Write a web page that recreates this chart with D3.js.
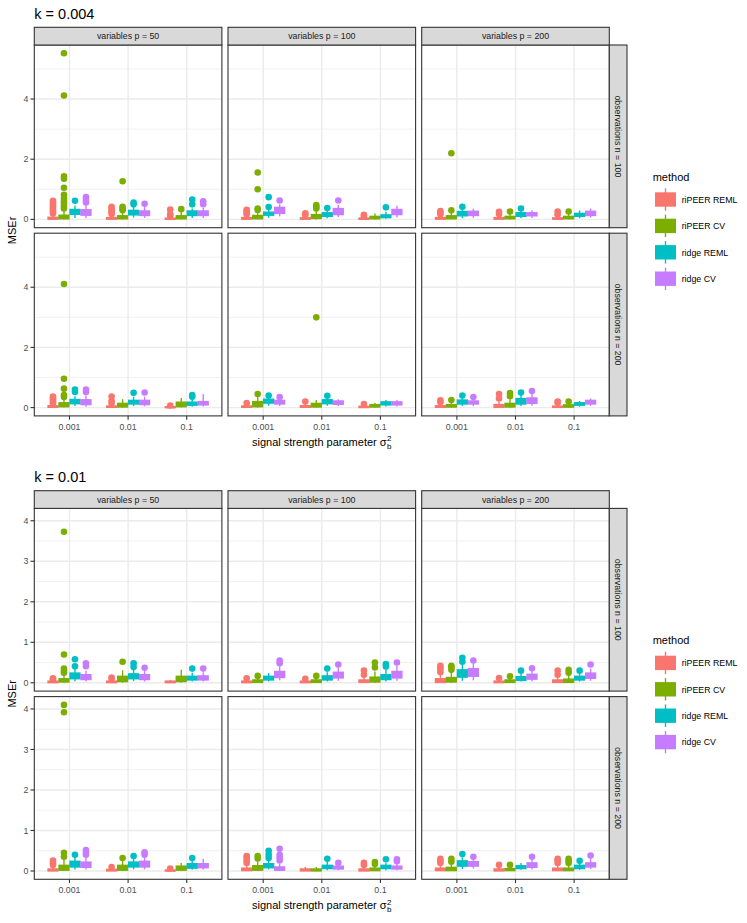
<!DOCTYPE html>
<html>
<head>
<meta charset="utf-8">
<script src="https://cdn.jsdelivr.net/npm/d3@7"></script>
<style>
  body { margin: 0; background: #fff; }
  text { font-family: "Liberation Sans", Arial, Helvetica, sans-serif; }
</style>
</head>
<body>
<svg id="chart" width="747" height="923"></svg>
<script>
const methods = ['riPEER REML', 'riPEER CV', 'ridge REML', 'ridge CV'];
const colors = ['#F8766D', '#7CAE00', '#00BFC4', '#C77CFF'];
const sigmas = ['0.001', '0.01', '0.1'];
const pVals = [50, 100, 200];
const nVals = [100, 200];

// each row: n, p, sigma, then per method [lo, q1, median, q3, hi, outliers]
const boxesK004 = [
  [100, 50, '0.001', [[0, 0.01, 0.03, 0.07, 0.15, [0.2, 0.26, 0.32, 0.38, 0.44, 0.5, 0.56, 0.62]],
                      [0, 0.02, 0.06, 0.14, 0.3, [0.36, 0.44, 0.52, 0.6, 0.7, 0.82, 1.05, 1.35, 1.43, 4.12, 5.52]],
                      [0.05, 0.17, 0.24, 0.33, 0.46, [0.62]],
                      [0.04, 0.14, 0.22, 0.32, 0.47, [0.56, 0.64, 0.74]]]],
  [100, 50, '0.01', [[0, 0.01, 0.03, 0.06, 0.13, [0.18, 0.24, 0.3, 0.36, 0.42]],
                     [0, 0.02, 0.05, 0.12, 0.25, [0.3, 0.36, 0.42, 1.27]],
                     [0.06, 0.15, 0.22, 0.3, 0.42, [0.5, 0.56]],
                     [0.05, 0.13, 0.2, 0.28, 0.42, [0.52]]]],
  [100, 50, '0.1', [[0, 0.005, 0.015, 0.04, 0.08, [0.12, 0.18, 0.33]],
                    [0, 0.02, 0.05, 0.12, 0.28, [0.34]],
                    [0.05, 0.13, 0.19, 0.28, 0.36, [0.5, 0.66]],
                    [0.05, 0.13, 0.19, 0.28, 0.38, [0.5, 0.6]]]],
  [100, 100, '0.001', [[0, 0.01, 0.03, 0.06, 0.12, [0.17, 0.22, 0.27, 0.32]],
                       [0, 0.02, 0.06, 0.13, 0.26, [0.31, 0.36, 1.0, 1.56]],
                       [0.05, 0.14, 0.18, 0.24, 0.33, [0.41, 0.74]],
                       [0.1, 0.2, 0.28, 0.4, 0.5, [0.63]]]],
  [100, 100, '0.01', [[0, 0.01, 0.03, 0.05, 0.1, [0.15, 0.2]],
                      [0, 0.03, 0.08, 0.16, 0.3, [0.36, 0.42, 0.48]],
                      [0.04, 0.1, 0.15, 0.22, 0.3, [0.38]],
                      [0.08, 0.16, 0.25, 0.36, 0.48, [0.63]]]],
  [100, 100, '0.1', [[0, 0.005, 0.02, 0.04, 0.08, [0.11, 0.15]],
                     [0, 0.02, 0.05, 0.1, 0.2, []],
                     [0.02, 0.06, 0.1, 0.15, 0.25, [0.4]],
                     [0.06, 0.16, 0.25, 0.33, 0.45, []]]],
  [100, 200, '0.001', [[0, 0.01, 0.03, 0.06, 0.12, [0.17, 0.22, 0.28]],
                       [0, 0.02, 0.05, 0.12, 0.25, [0.3, 2.2]],
                       [0.04, 0.12, 0.18, 0.26, 0.36, [0.42]],
                       [0.05, 0.13, 0.2, 0.27, 0.36, []]]],
  [100, 200, '0.01', [[0, 0.01, 0.03, 0.06, 0.12, [0.18, 0.25]],
                      [0, 0.02, 0.05, 0.1, 0.2, [0.26]],
                      [0.04, 0.1, 0.16, 0.22, 0.3, [0.36]],
                      [0.05, 0.12, 0.17, 0.22, 0.3, []]]],
  [100, 200, '0.1', [[0, 0.01, 0.02, 0.05, 0.1, [0.16, 0.26]],
                     [0, 0.02, 0.05, 0.1, 0.2, [0.26]],
                     [0.04, 0.1, 0.15, 0.2, 0.3, []],
                     [0.06, 0.13, 0.2, 0.27, 0.36, []]]],
  [200, 50, '0.001', [[0, 0.01, 0.03, 0.06, 0.1, [0.14, 0.19, 0.25, 0.31, 0.37]],
                      [0, 0.03, 0.08, 0.16, 0.3, [0.35, 0.42, 0.63, 0.96, 4.11]],
                      [0.05, 0.13, 0.19, 0.27, 0.38, [0.52, 0.6]],
                      [0.03, 0.1, 0.17, 0.26, 0.4, [0.52, 0.6]]]],
  [200, 50, '0.01', [[0, 0.01, 0.03, 0.05, 0.1, [0.15, 0.22, 0.37]],
                     [0, 0.02, 0.06, 0.14, 0.28, []],
                     [0.05, 0.12, 0.18, 0.24, 0.36, [0.49]],
                     [0.04, 0.1, 0.16, 0.24, 0.36, [0.5]]]],
  [200, 50, '0.1', [[0, 0.005, 0.01, 0.03, 0.05, [0.07]],
                    [0, 0.03, 0.1, 0.18, 0.32, []],
                    [0.03, 0.08, 0.12, 0.18, 0.28, [0.36, 0.42]],
                    [0.04, 0.09, 0.14, 0.2, 0.45, []]]],
  [200, 100, '0.001', [[0, 0.01, 0.03, 0.05, 0.1, [0.15]],
                       [0, 0.03, 0.1, 0.2, 0.35, [0.45]],
                       [0.06, 0.15, 0.22, 0.28, 0.35, [0.4]],
                       [0.05, 0.12, 0.18, 0.24, 0.3, [0.35]]]],
  [200, 100, '0.01', [[0, 0.01, 0.03, 0.06, 0.12, [0.2]],
                      [0, 0.02, 0.06, 0.14, 0.25, [3.0]],
                      [0.06, 0.13, 0.2, 0.26, 0.33, [0.39]],
                      [0.05, 0.11, 0.16, 0.22, 0.28, []]]],
  [200, 100, '0.1', [[0, 0.005, 0.02, 0.04, 0.08, [0.12]],
                     [0, 0.02, 0.05, 0.1, 0.15, []],
                     [0.04, 0.09, 0.14, 0.19, 0.25, []],
                     [0.04, 0.09, 0.14, 0.19, 0.25, []]]],
  [200, 200, '0.001', [[0, 0.01, 0.03, 0.06, 0.12, [0.18, 0.24]],
                       [0, 0.02, 0.05, 0.1, 0.2, [0.25]],
                       [0.05, 0.12, 0.18, 0.25, 0.33, [0.4]],
                       [0.05, 0.12, 0.18, 0.22, 0.3, [0.35]]]],
  [200, 200, '0.01', [[0, 0.01, 0.04, 0.1, 0.2, [0.3, 0.45]],
                      [0, 0.02, 0.06, 0.14, 0.28, [0.38, 0.48]],
                      [0.05, 0.12, 0.2, 0.3, 0.42, [0.5]],
                      [0.06, 0.14, 0.22, 0.32, 0.45, [0.55]]]],
  [200, 200, '0.1', [[0, 0.01, 0.02, 0.05, 0.1, [0.16, 0.2]],
                     [0, 0.02, 0.04, 0.09, 0.15, [0.2]],
                     [0.03, 0.08, 0.12, 0.16, 0.22, []],
                     [0.06, 0.12, 0.18, 0.24, 0.3, []]]],
];

const boxesK01 = [
  [100, 50, '0.001', [[0, 0.005, 0.02, 0.04, 0.07, [0.09, 0.11]],
                      [0, 0.02, 0.05, 0.1, 0.2, [0.25, 0.3, 0.35, 0.7, 3.73]],
                      [0.04, 0.1, 0.15, 0.24, 0.35, [0.41, 0.58]],
                      [0.03, 0.08, 0.13, 0.2, 0.3, [0.41, 0.48]]]],
  [100, 50, '0.01', [[0, 0.005, 0.02, 0.04, 0.07, [0.1, 0.13]],
                     [0, 0.03, 0.08, 0.16, 0.31, [0.52]],
                     [0.04, 0.1, 0.15, 0.22, 0.32, [0.39, 0.48]],
                     [0.03, 0.08, 0.13, 0.2, 0.3, [0.37]]]],
  [100, 50, '0.1', [[0, 0.005, 0.02, 0.04, 0.07, []],
                    [0, 0.03, 0.08, 0.16, 0.32, []],
                    [0.03, 0.07, 0.1, 0.16, 0.25, [0.35]],
                    [0.03, 0.07, 0.11, 0.17, 0.26, [0.35]]]],
  [100, 100, '0.001', [[0, 0.005, 0.02, 0.04, 0.08, [0.11]],
                       [0, 0.01, 0.03, 0.07, 0.13, [0.17]],
                       [0.03, 0.07, 0.11, 0.16, 0.24, []],
                       [0.06, 0.13, 0.2, 0.28, 0.4, [0.48, 0.55]]]],
  [100, 100, '0.01', [[0, 0.005, 0.02, 0.04, 0.07, [0.1]],
                      [0, 0.01, 0.03, 0.07, 0.13, [0.17]],
                      [0.03, 0.07, 0.11, 0.17, 0.26, [0.35]],
                      [0.05, 0.12, 0.18, 0.26, 0.38, [0.45]]]],
  [100, 100, '0.1', [[0, 0.01, 0.03, 0.07, 0.14, [0.2, 0.3]],
                     [0, 0.02, 0.06, 0.14, 0.28, [0.38, 0.5]],
                     [0.03, 0.08, 0.13, 0.2, 0.32, [0.4, 0.46]],
                     [0.05, 0.12, 0.19, 0.28, 0.42, [0.5]]]],
  [100, 200, '0.001', [[0, 0.01, 0.04, 0.1, 0.2, [0.26, 0.32, 0.38, 0.42]],
                       [0, 0.02, 0.06, 0.13, 0.26, [0.32, 0.38, 0.42]],
                       [0.05, 0.14, 0.22, 0.32, 0.45, [0.52, 0.62]],
                       [0.06, 0.16, 0.25, 0.35, 0.48, [0.55]]]],
  [100, 200, '0.01', [[0, 0.005, 0.02, 0.04, 0.08, [0.12]],
                      [0, 0.01, 0.03, 0.07, 0.12, [0.16]],
                      [0.03, 0.06, 0.1, 0.15, 0.22, [0.3]],
                      [0.04, 0.09, 0.15, 0.21, 0.3, [0.36]]]],
  [100, 200, '0.1', [[0, 0.01, 0.03, 0.07, 0.14, [0.2, 0.3]],
                     [0, 0.01, 0.04, 0.09, 0.18, [0.25, 0.32]],
                     [0.03, 0.07, 0.11, 0.16, 0.24, [0.3]],
                     [0.05, 0.11, 0.17, 0.24, 0.35, [0.45]]]],
  [200, 50, '0.001', [[0, 0.005, 0.02, 0.05, 0.1, [0.15, 0.2, 0.26]],
                      [0, 0.02, 0.06, 0.14, 0.28, [0.35, 0.45, 3.92, 4.1]],
                      [0.04, 0.1, 0.16, 0.24, 0.34, [0.4]],
                      [0.04, 0.09, 0.15, 0.22, 0.33, [0.4, 0.46, 0.52]]]],
  [200, 50, '0.01', [[0, 0.005, 0.02, 0.04, 0.07, [0.1]],
                     [0, 0.02, 0.06, 0.14, 0.28, [0.32]],
                     [0.04, 0.1, 0.15, 0.22, 0.3, [0.37]],
                     [0.04, 0.1, 0.16, 0.24, 0.34, [0.4, 0.46]]]],
  [200, 50, '0.1', [[0, 0.005, 0.01, 0.02, 0.04, [0.06]],
                    [0, 0.02, 0.06, 0.12, 0.2, []],
                    [0.03, 0.07, 0.12, 0.18, 0.26, [0.32]],
                    [0.04, 0.08, 0.13, 0.18, 0.3, []]]],
  [200, 100, '0.001', [[0, 0.01, 0.03, 0.07, 0.14, [0.2, 0.26, 0.32, 0.37]],
                       [0, 0.02, 0.06, 0.13, 0.26, [0.31, 0.37]],
                       [0.04, 0.08, 0.13, 0.18, 0.26, [0.32, 0.4, 0.5]],
                       [0, 0.02, 0.05, 0.1, 0.18, [0.26, 0.33, 0.4, 0.55]]]],
  [200, 100, '0.01', [[0, 0.005, 0.02, 0.05, 0.1, []],
                      [0, 0.005, 0.02, 0.05, 0.1, []],
                      [0.02, 0.06, 0.1, 0.14, 0.22, [0.3]],
                      [0.02, 0.05, 0.08, 0.12, 0.16, [0.2]]]],
  [200, 100, '0.1', [[0, 0.005, 0.02, 0.05, 0.1, [0.15, 0.2]],
                     [0, 0.01, 0.03, 0.07, 0.13, [0.17, 0.22]],
                     [0.02, 0.06, 0.1, 0.14, 0.2, [0.29]],
                     [0.02, 0.05, 0.08, 0.12, 0.2, [0.24, 0.29]]]],
  [200, 200, '0.001', [[0, 0.01, 0.03, 0.07, 0.14, [0.2, 0.25, 0.3]],
                       [0, 0.01, 0.04, 0.09, 0.17, [0.23, 0.3]],
                       [0.05, 0.12, 0.18, 0.25, 0.34, [0.42]],
                       [0.06, 0.12, 0.17, 0.23, 0.3, [0.35]]]],
  [200, 200, '0.01', [[0, 0.005, 0.02, 0.05, 0.1, [0.15]],
                      [0, 0.01, 0.03, 0.06, 0.11, [0.15]],
                      [0.03, 0.06, 0.09, 0.13, 0.2, []],
                      [0.04, 0.09, 0.14, 0.2, 0.28, [0.35]]]],
  [200, 200, '0.1', [[0, 0.01, 0.03, 0.07, 0.14, [0.2, 0.25, 0.3]],
                     [0, 0.01, 0.03, 0.07, 0.14, [0.2, 0.25, 0.3]],
                     [0.03, 0.06, 0.1, 0.14, 0.2, [0.25]],
                     [0.05, 0.1, 0.15, 0.2, 0.3, [0.38]]]],
];

const yTicksK004 = [0, 2, 4];
const yTicksK01 = [0, 1, 2, 3, 4];

// layout of one facet block
const panelX0 = 34.3, panelW = 187.6, gapX = 6.1;
const stripH = 17.7, panelH = 182.7, gapY = 5.5;

const svg = d3.select('#chart');
svg.append('rect').attr('width', 747).attr('height', 923).attr('fill', '#fff');

function drawBlock(top, kLabel, boxes, yTicks) {
  const g = svg.append('g');

  // title
  g.append('text')
    .attr('x', panelX0).attr('y', top - 8.3)
    .attr('font-size', 14.5).attr('fill', '#000')
    .text('k = ' + kLabel);

  // shared y domain with 5% expansion
  const allVals = boxes.flatMap(b => b[3].flatMap(s => [s[0], s[4], ...s[5]]));
  const lo = d3.min(allVals), hi = d3.max(allVals);
  const pad = (hi - lo) * 0.05;
  const yDomain = [lo - pad, hi + pad];

  const panelTop = top + stripH;
  const rowY = ri => panelTop + ri * (panelH + gapY);
  const colX = ci => panelX0 + ci * (panelW + gapX);

  const yScales = nVals.map((n, ri) =>
    d3.scaleLinear().domain(yDomain).range([rowY(ri) + panelH, rowY(ri)]));
  const xScales = pVals.map((p, ci) =>
    d3.scalePoint().domain(sigmas).range([colX(ci), colX(ci) + panelW]).padding(0.6));
  const step = xScales[0].step();
  const dodge = d3.scaleBand().domain(methods).range([-0.375 * step, 0.375 * step]);
  const boxW = dodge.bandwidth() * 0.9;

  // minor breaks halfway between majors
  const tStep = yTicks[1] - yTicks[0];
  const minor = d3.range(yTicks[0] - tStep / 2, yDomain[1], tStep)
    .filter(v => v > yDomain[0] && v < yDomain[1] && !yTicks.includes(v));

  nVals.forEach((n, ri) => {
    const y = yScales[ri];
    pVals.forEach((p, ci) => {
      const x = xScales[ci];
      const pg = g.append('g');
      pg.append('rect')
        .attr('x', colX(ci)).attr('y', rowY(ri))
        .attr('width', panelW).attr('height', panelH)
        .attr('fill', '#fff');
      pg.selectAll('line.minor').data(minor).join('line')
        .attr('x1', colX(ci)).attr('x2', colX(ci) + panelW)
        .attr('y1', d => y(d)).attr('y2', d => y(d))
        .attr('stroke', '#EBEBEB').attr('stroke-width', 0.7);
      pg.selectAll('line.major').data(yTicks).join('line')
        .attr('x1', colX(ci)).attr('x2', colX(ci) + panelW)
        .attr('y1', d => y(d)).attr('y2', d => y(d))
        .attr('stroke', '#EBEBEB').attr('stroke-width', 1.4);
      pg.selectAll('line.vmajor').data(sigmas).join('line')
        .attr('y1', rowY(ri)).attr('y2', rowY(ri) + panelH)
        .attr('x1', d => x(d)).attr('x2', d => x(d))
        .attr('stroke', '#EBEBEB').attr('stroke-width', 1.4);

      // boxplots
      boxes.filter(b => b[0] === n && b[1] === p).forEach(([, , s, stats]) => {
        stats.forEach((st, mi) => {
          const [wlo, q1, med, q3, whi, outs] = st;
          const cx = x(s) + dodge(methods[mi]) + dodge.bandwidth() / 2;
          const col = colors[mi];
          pg.append('line')
            .attr('x1', cx).attr('x2', cx)
            .attr('y1', y(wlo)).attr('y2', y(whi))
            .attr('stroke', col).attr('stroke-width', 1.4);
          pg.append('rect')
            .attr('x', cx - boxW / 2).attr('width', boxW)
            .attr('y', y(q3)).attr('height', Math.max(0.5, y(q1) - y(q3)))
            .attr('fill', col).attr('stroke', col).attr('stroke-width', 1.4);
          pg.append('line')
            .attr('x1', cx - boxW / 2).attr('x2', cx + boxW / 2)
            .attr('y1', y(med)).attr('y2', y(med))
            .attr('stroke', col).attr('stroke-width', 2.2);
          pg.selectAll(null).data(outs).join('circle')
            .attr('cx', cx).attr('cy', d => y(d)).attr('r', 3.3)
            .attr('fill', col);
        });
      });

      pg.append('rect')
        .attr('x', colX(ci)).attr('y', rowY(ri))
        .attr('width', panelW).attr('height', panelH)
        .attr('fill', 'none').attr('stroke', '#333333').attr('stroke-width', 1.1);
    });

    // y axis
    g.selectAll(null).data(yTicks).join('line')
      .attr('x1', panelX0 - 3.8).attr('x2', panelX0)
      .attr('y1', d => y(d)).attr('y2', d => y(d))
      .attr('stroke', '#333333').attr('stroke-width', 1.1);
    g.selectAll(null).data(yTicks).join('text')
      .attr('x', panelX0 - 6).attr('y', d => y(d) + 3.1)
      .attr('text-anchor', 'end').attr('font-size', 8.8).attr('fill', '#4D4D4D')
      .text(d => d);

    // right strip
    const sx = colX(2) + panelW;
    g.append('rect')
      .attr('x', sx).attr('y', rowY(ri)).attr('width', stripH).attr('height', panelH)
      .attr('fill', '#D9D9D9').attr('stroke', '#333333').attr('stroke-width', 1.1);
    g.append('text')
      .attr('transform', `translate(${sx + stripH / 2 - 3},${rowY(ri) + panelH / 2}) rotate(90)`)
      .attr('text-anchor', 'middle').attr('font-size', 8.8).attr('fill', '#1A1A1A')
      .text('observations n = ' + n);
  });

  // top strips + x axis
  const bottom = rowY(1) + panelH;
  pVals.forEach((p, ci) => {
    g.append('rect')
      .attr('x', colX(ci)).attr('y', top).attr('width', panelW).attr('height', stripH)
      .attr('fill', '#D9D9D9').attr('stroke', '#333333').attr('stroke-width', 1.1);
    g.append('text')
      .attr('x', colX(ci) + panelW / 2).attr('y', top + stripH / 2 + 3.1)
      .attr('text-anchor', 'middle').attr('font-size', 8.8).attr('fill', '#1A1A1A')
      .text('variables p = ' + p);

    const x = xScales[ci];
    g.selectAll(null).data(sigmas).join('line')
      .attr('x1', d => x(d)).attr('x2', d => x(d))
      .attr('y1', bottom).attr('y2', bottom + 3.8)
      .attr('stroke', '#333333').attr('stroke-width', 1.1);
    g.selectAll(null).data(sigmas).join('text')
      .attr('x', d => x(d)).attr('y', bottom + 13.6)
      .attr('text-anchor', 'middle').attr('font-size', 8.8).attr('fill', '#4D4D4D')
      .text(d => d);
  });

  // x axis title with sigma_b^2
  const xc = (panelX0 + colX(2) + panelW) / 2;
  const xt = g.append('text')
    .attr('y', bottom + 29.8).attr('font-size', 11).attr('fill', '#000')
    .text('signal strength parameter σ');
  const len = xt.node().getComputedTextLength();
  const x0 = xc - (len + 5) / 2;
  xt.attr('x', x0);
  g.append('text').attr('x', x0 + len + 0.3).attr('y', bottom + 25.5)
    .attr('font-size', 8).text('2');
  g.append('text').attr('x', x0 + len + 0.3).attr('y', bottom + 33)
    .attr('font-size', 8).text('b');

  // y axis title
  g.append('text')
    .attr('transform', `translate(16,${(panelTop + bottom) / 2}) rotate(-90)`)
    .attr('text-anchor', 'middle').attr('font-size', 11).attr('fill', '#000')
    .text('MSEr');

  // legend
  const lgTop = top + 153.4;
  g.append('text')
    .attr('x', 652.7).attr('y', lgTop).attr('font-size', 11).attr('fill', '#000')
    .text('method');
  methods.forEach((m, i) => {
    const cy = lgTop + 18.8 + i * 26.4;
    g.append('line')
      .attr('x1', 665.5).attr('x2', 665.5).attr('y1', cy - 11.2).attr('y2', cy + 11.2)
      .attr('stroke', colors[i]).attr('stroke-width', 1.4);
    g.append('rect')
      .attr('x', 655).attr('y', cy - 7.2).attr('width', 21).attr('height', 14.4)
      .attr('fill', colors[i]);
    g.append('text')
      .attr('x', 681.7).attr('y', cy + 3.2).attr('font-size', 8.8).attr('fill', '#000')
      .text(m);
  });
}

drawBlock(27.3, '0.004', boxesK004, yTicksK004);
drawBlock(490.7, '0.01', boxesK01, yTicksK01);
</script>
</body>
</html>
